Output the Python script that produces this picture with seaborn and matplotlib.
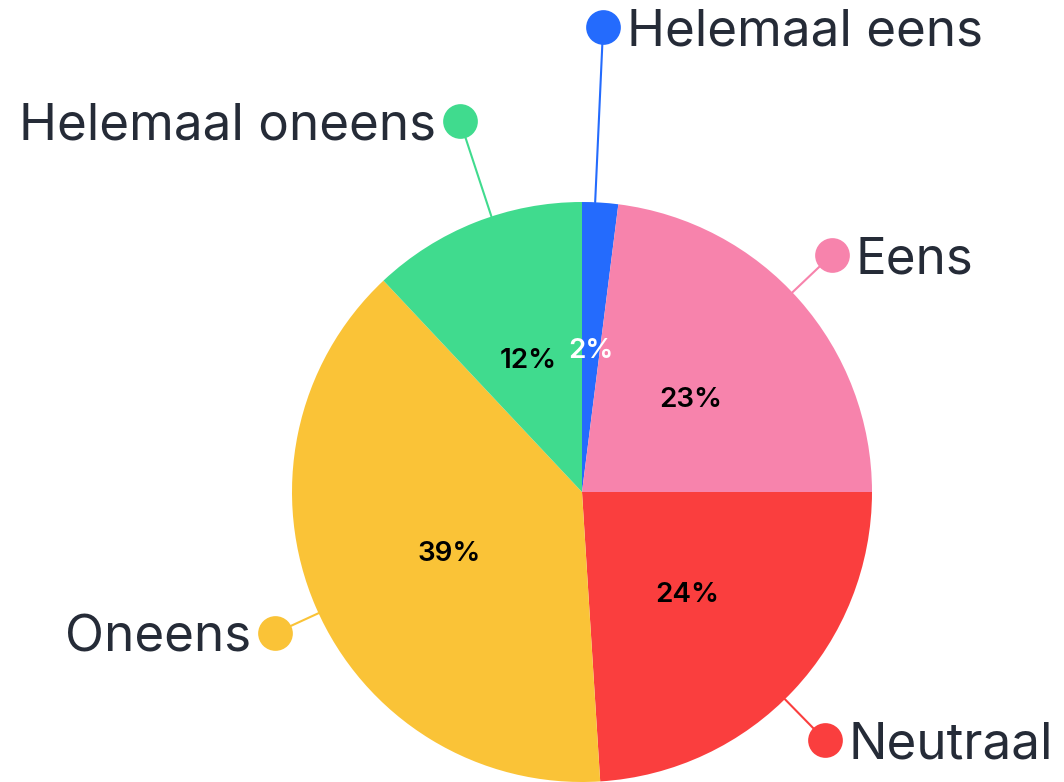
import matplotlib
matplotlib.use("Agg")
import matplotlib.pyplot as plt
import numpy as np
import seaborn as sns

# Data
labels = ["Helemaal eens", "Eens", "Neutraal", "Oneens", "Helemaal oneens"]
values = [2, 23, 24, 39, 12]
colors = ["#246BFD", "#F783AC", "#FA3E3E", "#FAC337", "#40DB8E"]
pct_colors = ["white", "black", "black", "black", "black"]
# label dot placement: distance (in pie radii) and angle shift from slice middle
label_dist = [1.605, 1.187, 1.197, 1.164, 1.347]
label_shift = [1.0, 2.1, -2.4, 1.3, -3.4]

sns.set_theme(style="white")
plt.rcParams["font.family"] = ["Inter", "DejaVu Sans"]

fig = plt.figure(figsize=(10.64, 7.82), dpi=100)
ax = fig.add_axes([0, 0, 1, 1])

cx, cy, r = 582, 290, 290
wedges, texts, autotexts = ax.pie(
    values, colors=colors, startangle=90, counterclock=False,
    center=(cx, cy), radius=r, autopct="%d%%", pctdistance=0.5,
    textprops=dict(fontsize=20, fontweight="semibold"),
    wedgeprops=dict(linewidth=0),
)
for t, c in zip(autotexts, pct_colors):
    t.set_color(c)
    x, y = t.get_position()
    t.set_position((x, y - 4))

# pie() resets the limits, so set them afterwards
ax.set_xlim(0, 1064)
ax.set_ylim(0, 782)
ax.set_aspect("equal")
ax.axis("off")

text_color = "#252B37"
for w, lab, d, s, col in zip(wedges, labels, label_dist, label_shift, colors):
    ang = np.deg2rad((w.theta1 + w.theta2) / 2 + s)
    ex, ey = cx + r * np.cos(ang), cy + r * np.sin(ang)
    dx, dy = cx + d * r * np.cos(ang), cy + d * r * np.sin(ang)
    ax.plot([ex, dx], [ey, dy], color=col, lw=1.5, zorder=1)
    ax.plot(dx, dy, "o", color=col, markersize=25, markeredgewidth=0, zorder=3)
    if np.cos(ang) >= 0:
        ax.text(dx + 24, dy, lab, ha="left", va="center_baseline",
                fontsize=36.8, color=text_color)
    else:
        ax.text(dx - 24, dy, lab, ha="right", va="center_baseline",
                fontsize=36.8, color=text_color)

fig.savefig("out.png", dpi=100)
